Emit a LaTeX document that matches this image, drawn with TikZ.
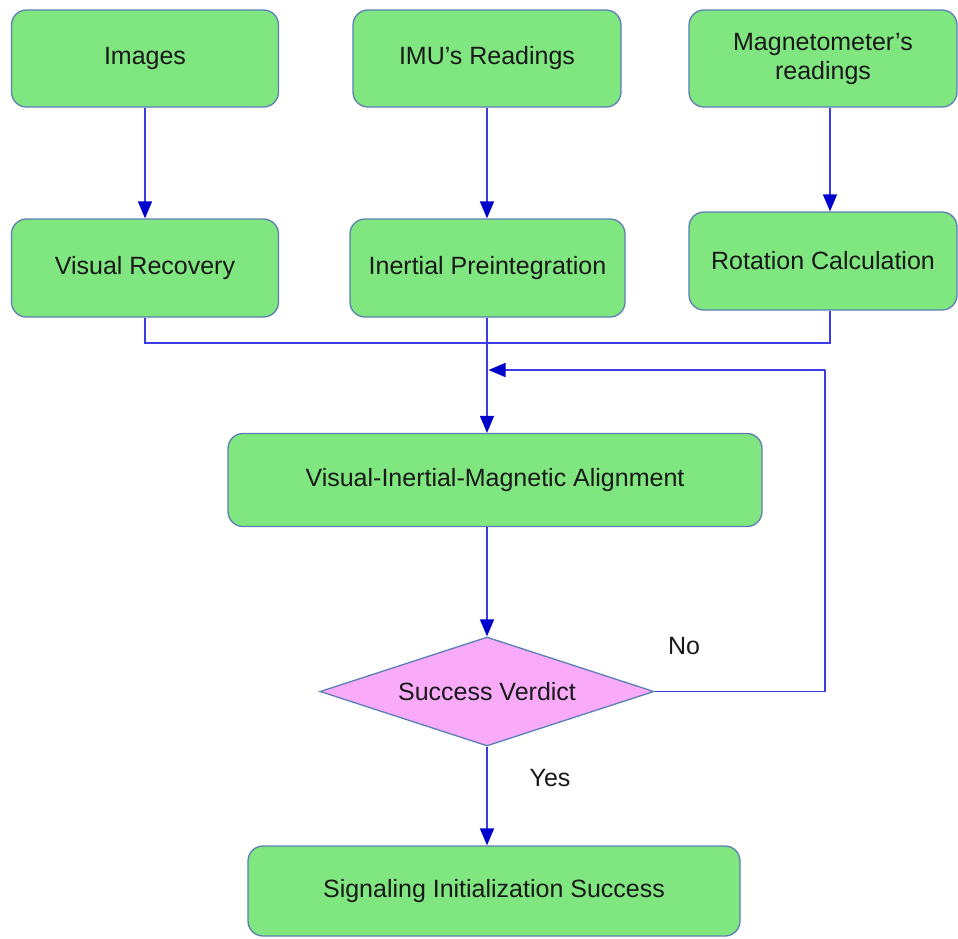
\documentclass[tikz,border=0pt]{standalone}
\usepackage{fontspec}
\setmainfont{Liberation Sans}
\usepackage{tikz}
\usetikzlibrary{shapes.geometric}
\usetikzlibrary{arrows.meta}

\begin{document}
\begin{tikzpicture}[auto, thick, x=1pt, y=-1pt]

  % Define Colors
  \definecolor{boxgreen}{HTML}{80E680}
  \definecolor{boxedge}{HTML}{5B7FB5}
  \definecolor{verdpink}{HTML}{F9AAF9}
  \definecolor{arrowblue}{HTML}{0000CC}
  \definecolor{linkblue}{HTML}{3C3CE6}

  % Node styles
  \tikzstyle{gbox}=[rectangle, rounded corners=15pt, draw=boxedge, line width=1.3pt, fill=boxgreen, text=black!90, align=center, font=\fontsize{25}{29}\selectfont, inner sep=0pt]
  \tikzstyle{pdia}=[diamond, draw=boxedge, line width=1.3pt, fill=verdpink, text=black!90, font=\fontsize{25}{29}\selectfont, inner sep=0pt, aspect=3.06]
  \tikzstyle{flow}=[line width=1.6pt, linkblue, -{Triangle[length=17pt,width=14pt,color=arrowblue,fill=arrowblue]}]
  \tikzstyle{link}=[line width=1.6pt, linkblue]
  \tikzstyle{tag}=[text=black!90, font=\fontsize{25}{29}\selectfont]

  \useasboundingbox (0,0) rectangle (958,938);

  % Nodes
  \node[gbox, minimum width=267pt, minimum height=97pt] (img) at (145,58.5) {Images};
  \node[gbox, minimum width=268pt, minimum height=97pt] (imu) at (487,58.5) {IMU’s Readings};
  \node[gbox, minimum width=268pt, minimum height=97pt] (mag) at (823,58.5) {Magnetometer’s\\readings};

  \node[gbox, minimum width=267pt, minimum height=98pt] (vis) at (145,268) {Visual Recovery};
  \node[gbox, minimum width=275pt, minimum height=98pt] (pre) at (487.5,268) {Inertial Preintegration};
  \node[gbox, minimum width=268pt, minimum height=98pt] (rot) at (823,261) {Rotation Calculation};

  \node[gbox, minimum width=534pt, minimum height=93pt] (vima) at (495,480) {Visual-Inertial-Magnetic Alignment};
  \node[pdia, minimum width=334pt, minimum height=109pt] (verd) at (487,691.5) {Success Verdict};
  \node[gbox, minimum width=492pt, minimum height=90pt] (sig) at (494,891) {Signaling Initialization Success};

  \coordinate (join) at (487,343);
  \coordinate (fb) at (825,370);

  % Input links
  \draw[flow] (img.south) -- (vis.north);
  \draw[flow] (imu.south) -- (pre.north -| imu.south);
  \draw[flow] ([xshift=7pt]mag.south) -- ([xshift=7pt]rot.north);

  % Merge links
  \draw[link] (vis.south) |- (join);
  \draw[link] ([xshift=7pt]rot.south) |- (join);
  \draw[flow] (pre.south -| join) -- (vima.north -| join);

  % Verdict
  \draw[flow] (vima.south -| join) -- (verd.north);
  \draw[flow] (verd.south) -- (sig.north -| verd.south);
  \draw[link] (verd.east) -| (fb);
  \draw[flow] (fb) -- ([xshift=1.5pt]fb -| join);

  % Labels
  \node[tag] (no) at (684,646) {No};
  \node[tag] (yes) at (550,778) {Yes};

\end{tikzpicture}
\end{document}
